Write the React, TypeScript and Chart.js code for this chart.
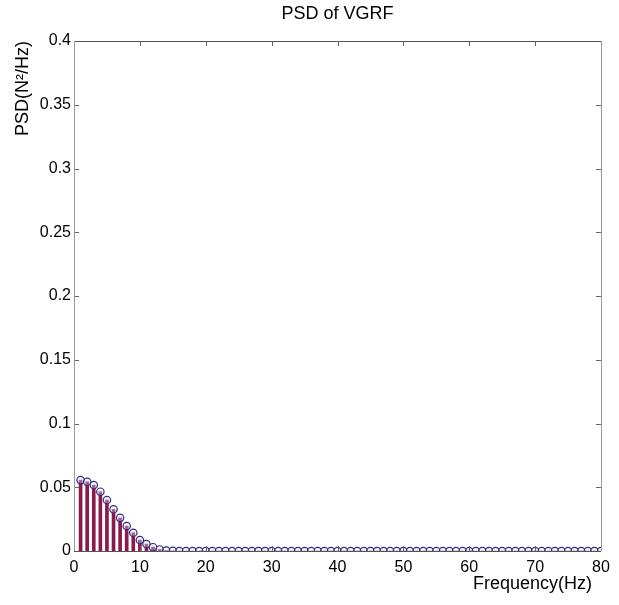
import { useEffect, useRef } from "react";
import { Chart, registerables } from "chart.js";

Chart.register(...registerables);

const frequencies = [
  1, 2, 3, 4, 5, 6, 7, 8, 9, 10,
  11, 12, 13, 14, 15, 16, 17, 18, 19, 20,
  21, 22, 23, 24, 25, 26, 27, 28, 29, 30,
  31, 32, 33, 34, 35, 36, 37, 38, 39, 40,
  41, 42, 43, 44, 45, 46, 47, 48, 49, 50,
  51, 52, 53, 54, 55, 56, 57, 58, 59, 60,
  61, 62, 63, 64, 65, 66, 67, 68, 69, 70,
  71, 72, 73, 74, 75, 76, 77, 78, 79, 80,
];

const psdValues = [
  0.0556, 0.0543, 0.0517, 0.0465, 0.040, 0.0327, 0.026, 0.0196, 0.0143, 0.0086,
  0.0055, 0.003, 0.0012, 0.0004, 0.0001, 0, 0, 0, 0, 0,
  0, 0, 0, 0, 0, 0, 0, 0, 0, 0,
  0, 0, 0, 0, 0, 0, 0, 0, 0, 0,
  0, 0, 0, 0, 0, 0, 0, 0, 0, 0,
  0, 0, 0, 0, 0, 0, 0, 0, 0, 0,
  0, 0, 0, 0, 0, 0, 0, 0, 0, 0,
  0, 0, 0, 0, 0, 0, 0, 0, 0, 0,
];

const xTicks = [0, 10, 20, 30, 40, 50, 60, 70, 80];
const yTicks = [0, 0.05, 0.1, 0.15, 0.2, 0.25, 0.3, 0.35, 0.4];
const xTitle = "Frequency(Hz)";

const FONT = "'Liberation Sans', Arial, sans-serif";

const frameTicksPlugin = {
  id: "frameTicks",
  afterDraw(chart: any) {
    const { ctx, chartArea } = chart;
    const { left, right, top, bottom } = chartArea;
    const xs = chart.scales.x;
    const ys = chart.scales.y;
    const len = 5;
    ctx.save();
    ctx.lineWidth = 1;
    ctx.strokeStyle = "#666";
    ctx.beginPath();
    for (const v of xTicks) {
      const px = Math.round(xs.getPixelForValue(v)) + 0.5;
      ctx.moveTo(px, bottom);
      ctx.lineTo(px, bottom - len);
      ctx.moveTo(px, top);
      ctx.lineTo(px, top + len);
    }
    for (const v of yTicks) {
      const py = Math.round(ys.getPixelForValue(v)) + 0.5;
      ctx.moveTo(left, py);
      ctx.lineTo(left + len, py);
      ctx.moveTo(right, py);
      ctx.lineTo(right - len, py);
    }
    ctx.stroke();
    ctx.strokeStyle = "#555";
    ctx.beginPath();
    ctx.moveTo(left, Math.round(top) + 0.5);
    ctx.lineTo(right, Math.round(top) + 0.5);
    ctx.moveTo(left, Math.round(bottom) + 0.5);
    ctx.lineTo(right, Math.round(bottom) + 0.5);
    ctx.stroke();
    ctx.strokeStyle = "#999";
    ctx.beginPath();
    ctx.moveTo(Math.round(left) + 0.5, top);
    ctx.lineTo(Math.round(left) + 0.5, bottom);
    ctx.moveTo(Math.round(right) + 0.5, top);
    ctx.lineTo(Math.round(right) + 0.5, bottom);
    ctx.stroke();
    // x axis title, below the tick labels, ending a little left of the right edge
    ctx.fillStyle = "#000";
    ctx.font = `18px ${FONT}`;
    ctx.textAlign = "right";
    ctx.textBaseline = "middle";
    ctx.fillText(xTitle, right - 9, bottom + 33);
    ctx.restore();
  },
};

export default function App() {
  const canvasRef = useRef<HTMLCanvasElement | null>(null);

  useEffect(() => {
    document.body.style.margin = "0";
    const canvas = canvasRef.current;
    if (!canvas) return;
    const points = frequencies.map((f, i) => ({ x: f, y: psdValues[i] }));
    const chart = new Chart(canvas, {
      type: "bar",
      data: {
        datasets: [
          {
            type: "line",
            data: points,
            showLine: false,
            pointStyle: "circle",
            pointRadius: 3.7,
            pointBorderWidth: 1.2,
            pointBorderColor: "#2e2e80",
            pointBackgroundColor: "rgba(235,235,250,0.35)",
            order: 0,
          } as any,
          {
            type: "bar",
            data: points,
            backgroundColor: "#8a1a4e",
            borderWidth: 0,
            barThickness: 3,
            order: 1,
          } as any,
        ],
      },
      options: {
        animation: false,
        responsive: false,
        maintainAspectRatio: false,
        layout: { padding: { left: 0, right: 18, top: 0, bottom: 0 } },
        plugins: {
          legend: { display: false },
          tooltip: { enabled: false },
          title: {
            display: true,
            text: "PSD of VGRF",
            fullSize: false,
            color: "#000",
            font: { family: FONT, size: 18, weight: "normal" },
            padding: { top: 3, bottom: 16.4 },
          },
        },
        scales: {
          x: {
            type: "linear",
            min: 0,
            max: 80,
            offset: false,
            grid: { display: false, drawTicks: false, offset: false },
            border: { display: false },
            afterBuildTicks: (scale: any) => {
              scale.ticks = xTicks.map((v) => ({ value: v }));
            },
            afterFit: (scale: any) => {
              scale.height = 54;
            },
            ticks: {
              color: "#000",
              font: { family: FONT, size: 16 },
              padding: 7,
              maxRotation: 0,
              autoSkip: false,
              callback: (v: any) => String(v),
            },
            title: { display: false },
          },
          y: {
            type: "linear",
            min: 0,
            max: 0.4,
            grid: { display: false, drawTicks: false },
            border: { display: false },
            afterBuildTicks: (scale: any) => {
              scale.ticks = yTicks.map((v) => ({ value: v }));
            },
            afterFit: (scale: any) => {
              scale.width = 74;
            },
            ticks: {
              color: "#000",
              font: { family: FONT, size: 16 },
              padding: 3,
              autoSkip: false,
              callback: (v: any) => String(Number(Number(v).toFixed(2))),
            },
            title: {
              display: true,
              text: "PSD(N²/Hz)",
              align: "end",
              color: "#000",
              font: { family: FONT, size: 18 },
              padding: { top: 12, bottom: 0 },
            },
          },
        },
      },
      plugins: [frameTicksPlugin],
    } as any);
    return () => chart.destroy();
  }, []);

  return (
    <div style={{ width: 619, height: 605, background: "#fff" }}>
      <canvas ref={canvasRef} width={619} height={605} style={{ display: "block" }} />
    </div>
  );
}
